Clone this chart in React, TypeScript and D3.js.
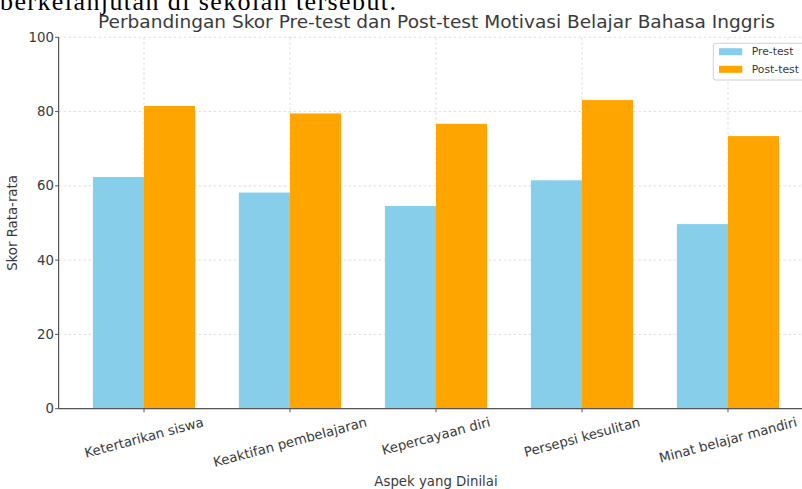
import React, { useEffect, useRef } from "react";
import { select, scaleBand, scaleLinear } from "d3";

// data
const categories = [
  "Ketertarikan siswa",
  "Keaktifan pembelajaran",
  "Kepercayaan diri",
  "Persepsi kesulitan",
  "Minat belajar mandiri",
];
const preTest = [62.4, 58.2, 54.6, 61.5, 49.7];
const postTest = [81.5, 79.5, 76.7, 83.1, 73.4];
const yTicks = [0, 20, 40, 60, 80, 100];
const seriesNames = ["Pre-test", "Post-test"];
const seriesColors = ["#87CEEB", "#FFA500"];

const W = 802;
const H = 489;
const plot = { left: 58.6, right: 813.4, top: 37.3, bottom: 408.7 };
const FONT = "DejaVu Sans, sans-serif";
const TEXT = "#3a3a3a";
const ROT = 15;

const App = () => {
  const svgRef = useRef<SVGSVGElement>(null);

  useEffect(() => {
    const svg = select(svgRef.current);
    svg.selectAll("*").remove();

    const x = scaleBand<string>()
      .domain(categories)
      .range([plot.left, plot.right])
      .paddingInner(0)
      .paddingOuter(0.085);
    const y = scaleLinear().domain([0, 100]).range([plot.bottom, plot.top]);
    const center = (c: string) => (x(c) as number) + x.bandwidth() / 2;
    const barW = x.bandwidth() * 0.35;

    // scrap of document text above the chart (cut at the top in the reference)
    svg
      .append("text")
      .attr("x", 0)
      .attr("y", 9.5)
      .attr("font-family", "Liberation Serif, serif")
      .attr("font-size", 26)
      .attr("fill", "#000")
      .attr("textLength", 396)
      .attr("lengthAdjust", "spacing")
      .text("berkelanjutan di sekolah tersebut.");

    // grid
    const grid = svg.append("g");
    grid
      .selectAll(".hgrid")
      .data(yTicks)
      .join("line")
      .attr("x1", plot.left)
      .attr("x2", plot.right)
      .attr("y1", (d) => y(d))
      .attr("y2", (d) => y(d))
      .attr("stroke", "#d4d4d4")
      .attr("stroke-width", 0.8)
      .attr("stroke-dasharray", "2.5,2.5");
    grid
      .selectAll(".vgrid")
      .data(categories)
      .join("line")
      .attr("x1", center)
      .attr("x2", center)
      .attr("y1", plot.top)
      .attr("y2", plot.bottom)
      .attr("stroke", "#d4d4d4")
      .attr("stroke-width", 0.8)
      .attr("stroke-dasharray", "2.5,2.5");

    // bars
    const series = [preTest, postTest];
    series.forEach((vals, si) => {
      svg
        .append("g")
        .selectAll("rect")
        .data(vals)
        .join("rect")
        .attr("x", (d, i) => center(categories[i]) - barW + si * barW)
        .attr("y", (d) => y(d))
        .attr("width", barW)
        .attr("height", (d) => y(0) - y(d))
        .attr("fill", seriesColors[si]);
    });

    // spines
    svg
      .append("line")
      .attr("x1", plot.left)
      .attr("x2", plot.left)
      .attr("y1", plot.top)
      .attr("y2", plot.bottom)
      .attr("stroke", "#555")
      .attr("stroke-width", 1.2);
    svg
      .append("line")
      .attr("x1", plot.left)
      .attr("x2", plot.right)
      .attr("y1", plot.bottom)
      .attr("y2", plot.bottom)
      .attr("stroke", "#555")
      .attr("stroke-width", 1.2);

    // y ticks + labels
    const yAx = svg.append("g");
    yAx
      .selectAll("line")
      .data(yTicks)
      .join("line")
      .attr("x1", plot.left - 3.5)
      .attr("x2", plot.left)
      .attr("y1", (d) => y(d))
      .attr("y2", (d) => y(d))
      .attr("stroke", "#555");
    yAx
      .selectAll("text")
      .data(yTicks)
      .join("text")
      .attr("x", 54)
      .attr("y", (d) => y(d))
      .attr("text-anchor", "end")
      .attr("dominant-baseline", "central")
      .attr("font-family", FONT)
      .attr("font-size", 13.3)
      .attr("fill", TEXT)
      .text((d) => d);

    // x ticks + rotated labels
    const xAx = svg.append("g");
    xAx
      .selectAll("line")
      .data(categories)
      .join("line")
      .attr("x1", center)
      .attr("x2", center)
      .attr("y1", plot.bottom)
      .attr("y2", plot.bottom + 3.5)
      .attr("stroke", "#555");

    const rad = (ROT * Math.PI) / 180;
    const lineH = 13.3 * 1.17;
    let lowest = 0;
    xAx
      .selectAll("text")
      .data(categories)
      .join("text")
      .attr("text-anchor", "middle")
      .attr("dominant-baseline", "central")
      .attr("font-family", FONT)
      .attr("font-size", 13.3)
      .attr("fill", TEXT)
      .text((d) => d)
      .each(function (d) {
        const el = this as SVGTextElement;
        const len = el.getComputedTextLength();
        const boxH = len * Math.sin(rad) + lineH * Math.cos(rad);
        const top = plot.bottom + 5.5;
        const cy = top + boxH / 2;
        lowest = Math.max(lowest, top + boxH);
        select(el).attr("transform", `translate(${center(d)},${cy}) rotate(${-ROT})`);
      });

    // axis titles
    svg
      .append("text")
      .attr("x", (plot.left + plot.right) / 2)
      .attr("y", lowest + 3 + 7.8)
      .attr("text-anchor", "middle")
      .attr("dominant-baseline", "central")
      .attr("font-family", FONT)
      .attr("font-size", 13.3)
      .attr("fill", TEXT)
      .text("Aspek yang Dinilai");
    svg
      .append("text")
      .attr("transform", `translate(12.5,${(plot.top + plot.bottom) / 2}) rotate(-90)`)
      .attr("text-anchor", "middle")
      .attr("dominant-baseline", "central")
      .attr("font-family", FONT)
      .attr("font-size", 13.3)
      .attr("fill", TEXT)
      .text("Skor Rata-rata");

    // title
    svg
      .append("text")
      .attr("x", 98)
      .attr("y", 28)
      .attr("font-family", FONT)
      .attr("font-size", 17)
      .attr("fill", TEXT)
      .attr("textLength", 677)
      .attr("lengthAdjust", "spacingAndGlyphs")
      .text("Perbandingan Skor Pre-test dan Post-test Motivasi Belajar Bahasa Inggris");

    // legend
    const lg = svg.append("g");
    lg.append("rect")
      .attr("x", 713.3)
      .attr("y", 43.3)
      .attr("width", 95)
      .attr("height", 36.7)
      .attr("rx", 2.5)
      .attr("fill", "#fff")
      .attr("fill-opacity", 0.85)
      .attr("stroke", "#d0d0d0");
    const rows = lg
      .selectAll(".row")
      .data(seriesNames)
      .join("g")
      .attr("transform", (d, i) => `translate(0,${51.7 + i * 17.6})`);
    rows
      .append("rect")
      .attr("x", 719)
      .attr("y", -3.5)
      .attr("width", 23.3)
      .attr("height", 7)
      .attr("fill", (d, i) => seriesColors[i]);
    rows
      .append("text")
      .attr("x", 751.7)
      .attr("dominant-baseline", "central")
      .attr("font-family", FONT)
      .attr("font-size", 10.8)
      .attr("fill", TEXT)
      .text((d) => d);
  }, []);

  return (
    <svg
      ref={svgRef}
      width={W}
      height={H}
      style={{ position: "absolute", left: 0, top: 0, background: "#fff" }}
    />
  );
};

export default App;
